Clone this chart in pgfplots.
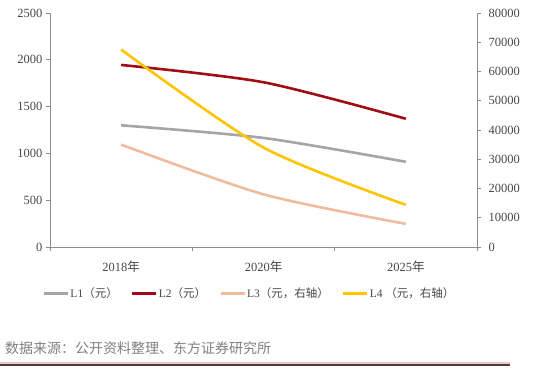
\documentclass[border=0pt]{standalone}
\usepackage{fontspec}
\setmainfont{Liberation Serif}
\newfontfamily\cjk{Noto Sans CJK SC}
\usepackage{pgfplots}
\pgfplotsset{compat=1.18}
\definecolor{cL1}{RGB}{165,165,165}
\definecolor{cL2}{RGB}{158,14,20}
\definecolor{cL3}{RGB}{240,188,158}
\definecolor{cL4}{RGB}{255,196,0}
\definecolor{axgray}{RGB}{140,140,140}
\definecolor{txt}{RGB}{70,70,70}
\pgfplotsset{
  common/.style={
    at={(50pt,132pt)}, anchor=south west, scale only axis,
    width=427pt, height=234pt,
    xmin=-0.5, xmax=2.5,
    axis line style={draw=axgray, line width=0.8pt, -},
    tick style={draw=axgray, line width=0.8pt},
    tick align=outside, major tick length=4pt,
    /pgf/number format/assume math mode=true,
    /pgf/number format/1000 sep={},
    tick label style={font=\fontsize{12.5}{14}\selectfont, text=txt},
    every axis plot/.append style={line width=2.6pt, smooth, tension=0.45},
  }
}
\begin{document}
\begin{tikzpicture}[x=1pt,y=1pt]
\path[use as bounding box] (0,0) rectangle (556,379);
\begin{axis}[common,
  ymin=0, ymax=2500, ytick={0,500,...,2500},
  axis x line*=bottom, axis y line*=left,
  xtick={0,1,2},
  xticklabels={2018{\cjk 年},2020{\cjk 年},2025{\cjk 年}},
  x tick style={draw=none},
  minor xtick={-0.5,0.5,1.5,2.5},
  minor tick length=4pt,
  minor x tick style={draw=axgray, line width=0.8pt},
  xticklabel style={yshift=-6pt},
]
\addplot[cL1] coordinates {(0,1300) (1,1165) (2,910)};
\addplot[cL2] coordinates {(0,1945) (1,1760) (2,1370)};
\end{axis}
\begin{axis}[common,
  ymin=0, ymax=80000, ytick={0,10000,...,80000},
  axis y line*=right, axis x line=none,
  scaled y ticks=false,
  yticklabel style={/pgf/number format/fixed, xshift=4pt},
  legend columns=4,
  legend style={at={(0.466,-0.197)}, anchor=center, draw=none, fill=none,
    font=\fontsize{11.5}{14}\selectfont, text=txt,
    nodes={inner sep=1pt},
    /tikz/every even column/.append style={column sep=12pt}},
  legend image code/.code={\draw[#1, line width=3pt] (0pt,0pt) -- (24pt,0pt);},
]
\addlegendimage{cL1}
\addlegendentry{L1{\cjk（元）}}
\addlegendimage{cL2}
\addlegendentry{L2{\cjk（元）}}
\addplot[cL3] coordinates {(0,35000) (1,18000) (2,7900)};
\addlegendentry{L3{\cjk（元，右轴）}}
\addplot[cL4] coordinates {(0,67500) (1,34000) (2,14400)};
\addlegendentry{L4 {\cjk（元，右轴）}}
\end{axis}
\node[anchor=west, text=gray, inner sep=0pt] at (5,31) {\cjk\fontsize{14}{16}\selectfont 数据来源：公开资料整理、东方证券研究所};
\draw[line width=1.2pt, color={rgb,255:red,240;green,200;blue,200}] (0,16) -- (510,16);
\draw[line width=1.5pt, color={rgb,255:red,85;green,60;blue,60}] (0,14) -- (510,14);
\end{tikzpicture}
\end{document}
